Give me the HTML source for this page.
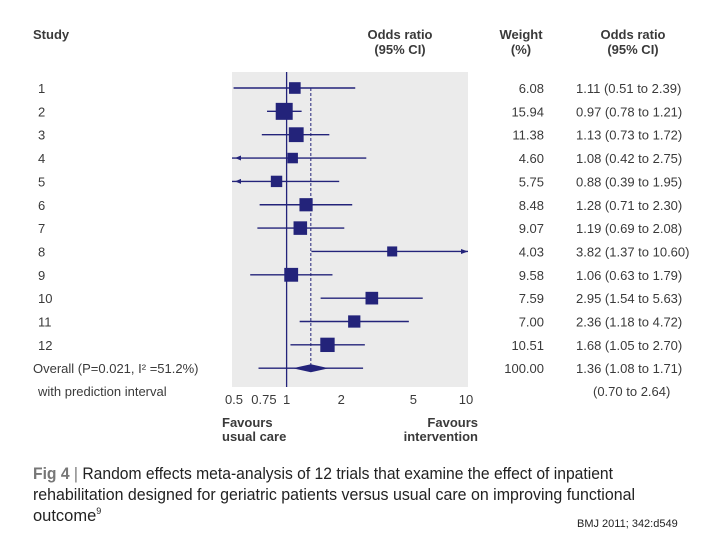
<!DOCTYPE html>
<html><head><meta charset="utf-8"><style>
body{margin:0;background:#fff;width:720px;height:540px;overflow:hidden;font-family:"Liberation Sans",sans-serif}
svg text{font-family:"Liberation Sans",sans-serif}
</style></head><body>
<svg id="c" width="720" height="540">
<rect x="232" y="72" width="236" height="315" fill="#ebebeb"/>
<g fill="#3a3a3a" font-weight="bold" font-size="13">
<text x="33" y="39">Study</text>
<text x="400" y="39" text-anchor="middle">Odds ratio</text>
<text x="400" y="54" text-anchor="middle">(95% CI)</text>
<text x="521" y="39" text-anchor="middle">Weight</text>
<text x="521" y="54" text-anchor="middle">(%)</text>
<text x="633" y="39" text-anchor="middle">Odds ratio</text>
<text x="633" y="54" text-anchor="middle">(95% CI)</text>
</g>
<g id="rows"></g>
<g fill="#3a3a3a" font-weight="bold" font-size="13">
<text x="222" y="427">Favours</text>
<text x="222" y="441">usual care</text>
<text x="478" y="427" text-anchor="end">Favours</text>
<text x="478" y="441" text-anchor="end">intervention</text>
</g>
<g font-size="16.5" fill="#222">
<text x="33" y="479" textLength="580" lengthAdjust="spacingAndGlyphs"><tspan fill="#777" font-weight="bold">Fig 4</tspan><tspan fill="#777"> | </tspan>Random effects meta-analysis of 12 trials that examine the effect of inpatient</text>
<text x="33" y="500" textLength="602" lengthAdjust="spacingAndGlyphs">rehabilitation designed for geriatric patients versus usual care on improving functional</text>
<text x="33" y="521">outcome<tspan font-size="9" dy="-7">9</tspan></text>
</g>
<text x="577" y="527" font-size="11" fill="#222">BMJ 2011; 342:d549</text>
</svg>
<script>
const studies=["1","2","3","4","5","6","7","8","9","10","11","12"];
const ors=[1.11,0.97,1.13,1.08,0.88,1.28,1.19,3.82,1.06,2.95,2.36,1.68];
const lows=[0.51,0.78,0.73,0.42,0.39,0.71,0.69,1.37,0.63,1.54,1.18,1.05];
const highs=[2.39,1.21,1.72,2.75,1.95,2.30,2.08,10.60,1.79,5.63,4.72,2.70];
const weights=[6.08,15.94,11.38,4.60,5.75,8.48,9.07,4.03,9.58,7.59,7.00,10.51];
const overall=[1.36,1.08,1.71];
const predInt=[0.70,2.64];
const ticks=[0.5,0.75,1,2,5,10];
const tickLabels=["0.5","0.75","1","2","5","10"];
const ns="http://www.w3.org/2000/svg",g=document.getElementById('rows');
const X0=232,X1=468,lmin=Math.log10(0.5),lmax=Math.log10(10);
function xs(v){v=Math.max(0.5,Math.min(10,v));return X0+(Math.log10(v)-lmin)/(lmax-lmin)*(X1-X0);}
function ys(i){return 88+i*23.35;}
const C="#23237a";
function mk(t,a,p){const e=document.createElementNS(ns,t);for(const k in a)e.setAttribute(k,a[k]);(p||g).appendChild(e);return e;}
function txt(x,y,s,anchor,name){const e=mk('text',{x:x,y:y,'font-size':13,fill:'#3a3a3a','text-anchor':anchor||'start'});e.textContent=s;

return e;}
let l=mk('line',{x1:xs(1),x2:xs(1),y1:72,y2:387,stroke:C,'stroke-width':1.3});


l=mk('line',{x1:xs(overall[0]),x2:xs(overall[0]),y1:ys(0),y2:ys(12),stroke:C,'stroke-width':1,'stroke-dasharray':'3,2'});


studies.forEach((s,i)=>{
 const y=ys(i),a=xs(lows[i]),b=xs(highs[i]);
 const ci=mk('line',{x1:a,x2:b,y1:y,y2:y,stroke:C,'stroke-width':1.4});
 
 
 if(lows[i]<0.5){const ar=mk('path',{d:`M${X0+3},${y} l6,-2.5 v5 z`,fill:C});
  
  }
 if(highs[i]>10){const ar=mk('path',{d:`M${X1},${y} l-7,-2.5 v5 z`,fill:C});
  
  }
 const sz=3.5*Math.sqrt(weights[i])+3;
 const r=mk('rect',{x:xs(ors[i])-sz/2,y:y-sz/2,width:sz,height:sz,fill:C});
 
 
 txt(38,y+5,s,'start','study-label-'+s);
 txt(544,y+5,weights[i].toFixed(2),'end','weight-'+s);
 txt(576,y+5,`${ors[i].toFixed(2)} (${lows[i].toFixed(2)} to ${highs[i].toFixed(2)})`,'start','or-ci-'+s);
});
const yo=ys(12);
l=mk('line',{x1:xs(predInt[0]),x2:xs(predInt[1]),y1:yo,y2:yo,stroke:C,'stroke-width':1.4});


const d=mk('path',{d:`M${xs(overall[1])},${yo} L${xs(overall[0])},${yo-4} L${xs(overall[2])},${yo} L${xs(overall[0])},${yo+4} Z`,fill:C});


txt(33,yo+5,'Overall (P=0.021, I² =51.2%)','start','overall-label');
txt(38,yo+28,'with prediction interval','start','prediction-label');
txt(544,yo+5,'100.00','end','overall-weight');
txt(576,yo+5,`${overall[0].toFixed(2)} (${overall[1].toFixed(2)} to ${overall[2].toFixed(2)})`,'start','overall-or');
txt(593,yo+28,`(${predInt[0].toFixed(2)} to ${predInt[1].toFixed(2)})`,'start','prediction-ci');
ticks.forEach((t,i)=>{
 const tk=mk('line',{x1:xs(t),x2:xs(t),y1:387,y2:391,stroke:'#fff','stroke-width':1.5});
 
 
 txt(xs(t)+(i==0?2:i==5?-2:0),404,tickLabels[i],'middle','x-tick-label');
});
</script>
</body></html>
